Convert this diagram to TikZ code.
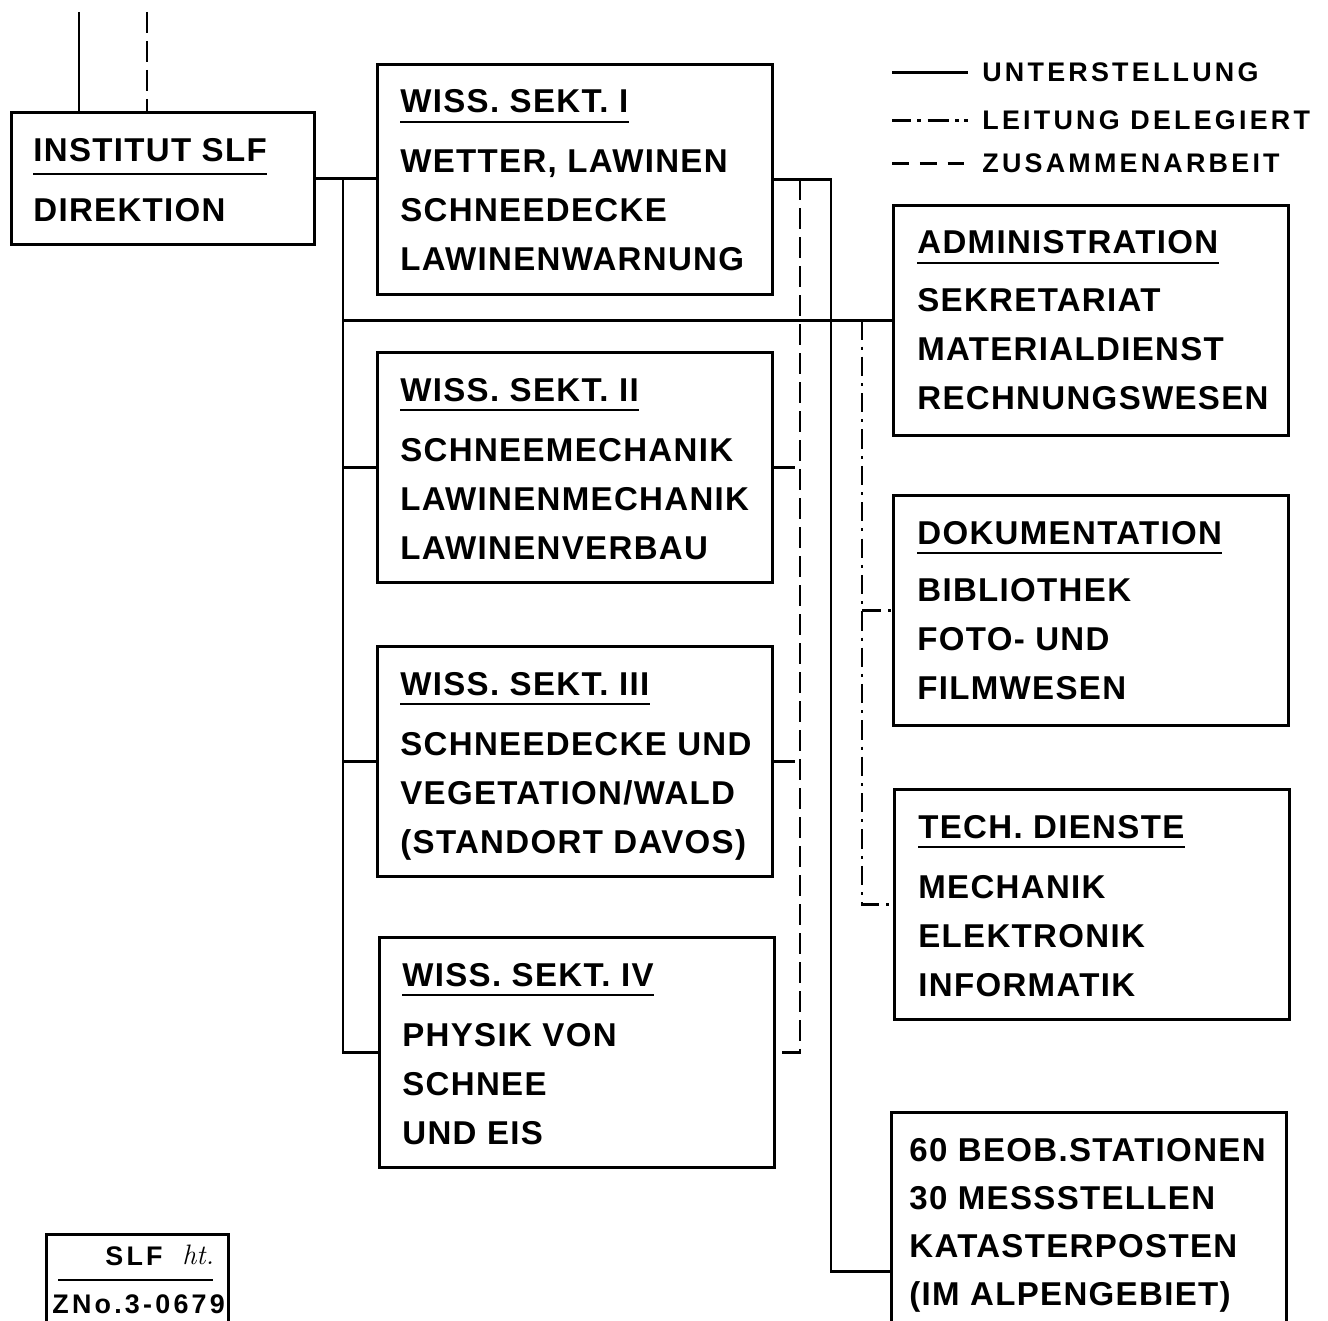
\documentclass[tikz,border=0pt]{standalone}
\usepackage{fontspec}
\newfontfamily\lettering[LetterSpace=4]{Liberation Sans}
\newfontfamily\smalllettering[LetterSpace=12]{Liberation Sans}
\usetikzlibrary{calc}

\begin{document}
\begin{tikzpicture}[x=0.02cm,y=-0.02cm,
  every node/.style={font=\lettering\bfseries\fontsize{18.8}{22}\selectfont, inner sep=0pt},
  unitbox/.style={draw, line width=1.5pt, anchor=north west, minimum width=7.9cm, minimum height=4.6cm},
  txt/.style={anchor=base west},
  uline/.style={line width=1.5pt},
  link/.style={line width=1.5pt},
  coop/.style={line width=1.5pt, dash pattern=on 12pt off 4.5pt},
  deleg/.style={line width=1.5pt, dash pattern=on 11pt off 4pt on 1.7pt off 4pt},
  legend/.style={anchor=base west, font=\smalllettering\bfseries\fontsize{15.3}{18}\selectfont}]
  \useasboundingbox (0,0) rectangle (1328,1321);
  \clip (0,0) rectangle (1328,1321);

  % Direktion
  \node[unitbox, minimum width=6.06cm, minimum height=2.64cm] (inst) at (10,111) {};
  \node[txt] (instt) at ($(inst.north west)+(23,51)$) {INSTITUT SLF};
  \draw[uline] ([yshift=-0.24cm]instt.base west) -- ([yshift=-0.24cm]instt.base east);
  \node[txt] (instl) at ($(inst.north west)+(23,110)$) {DIREKTION};
  \coordinate (topa) at (79,12);
  \coordinate (topb) at (147,12);
  \draw[link] (topa) -- (topa |- inst.north);
  \draw[coop] (topb) -- (topb |- inst.north);

  % Wissenschaftliche Sektionen
  \node[unitbox] (s1) at (376,63) {};
  \node[txt] (s1t) at ($(s1.north west)+(24,50)$) {WISS. SEKT. I};
  \draw[uline] ([yshift=-0.18cm]s1t.base west) -- ([yshift=-0.18cm]s1t.base east);
  \foreach \ln [count=\i] in {{WETTER, LAWINEN},SCHNEEDECKE,LAWINENWARNUNG}
    \node[txt] (s1l\i) at ($(s1.north west)+(24,61+49*\i)$) {\ln};

  \node[unitbox] (s2) at (376,351) {};
  \node[txt] (s2t) at ($(s2.north west)+(24,50)$) {WISS. SEKT. II};
  \draw[uline] ([yshift=-0.18cm]s2t.base west) -- ([yshift=-0.18cm]s2t.base east);
  \foreach \ln [count=\i] in {SCHNEEMECHANIK,LAWINENMECHANIK,LAWINENVERBAU}
    \node[txt] (s2l\i) at ($(s2.north west)+(24,61+49*\i)$) {\ln};

  \node[unitbox] (s3) at (376,645) {};
  \node[txt] (s3t) at ($(s3.north west)+(24,50)$) {WISS. SEKT. III};
  \draw[uline] ([yshift=-0.18cm]s3t.base west) -- ([yshift=-0.18cm]s3t.base east);
  \foreach \ln [count=\i] in {SCHNEEDECKE UND,VEGETATION/WALD,(STANDORT DAVOS)}
    \node[txt] (s3l\i) at ($(s3.north west)+(24,61+49*\i)$) {\ln};

  \node[unitbox] (s4) at (378,936) {};
  \node[txt] (s4t) at ($(s4.north west)+(24,50)$) {WISS. SEKT. IV};
  \draw[uline] ([yshift=-0.18cm]s4t.base west) -- ([yshift=-0.18cm]s4t.base east);
  \foreach \ln [count=\i] in {PHYSIK VON,SCHNEE,UND EIS}
    \node[txt] (s4l\i) at ($(s4.north west)+(24,61+49*\i)$) {\ln};

  % Dienste
  \node[unitbox] (adm) at (892,204) {};
  \node[txt] (admt) at ($(adm.north west)+(25,50)$) {ADMINISTRATION};
  \draw[uline] ([yshift=-0.18cm]admt.base west) -- ([yshift=-0.18cm]admt.base east);
  \foreach \ln [count=\i] in {SEKRETARIAT,MATERIALDIENST,RECHNUNGSWESEN}
    \node[txt] (adml\i) at ($(adm.north west)+(25,58+49*\i)$) {\ln};

  \node[unitbox] (dok) at (892,494) {};
  \node[txt] (dokt) at ($(dok.north west)+(25,50)$) {DOKUMENTATION};
  \draw[uline] ([yshift=-0.18cm]dokt.base west) -- ([yshift=-0.18cm]dokt.base east);
  \foreach \ln [count=\i] in {BIBLIOTHEK,FOTO- UND,FILMWESEN}
    \node[txt] (dokl\i) at ($(dok.north west)+(25,58+49*\i)$) {\ln};

  \node[unitbox] (tech) at (893,788) {};
  \node[txt] (techt) at ($(tech.north west)+(25,50)$) {TECH. DIENSTE};
  \draw[uline] ([yshift=-0.18cm]techt.base west) -- ([yshift=-0.18cm]techt.base east);
  \foreach \ln [count=\i] in {MECHANIK,ELEKTRONIK,INFORMATIK}
    \node[txt] (techl\i) at ($(tech.north west)+(25,61+49*\i)$) {\ln};

  \node[unitbox, minimum height=6.36cm] (b60) at (890,1111) {};
  \foreach \ln [count=\i] in {60 BEOB.STATIONEN,30 MESSSTELLEN,KATASTERPOSTEN,(IM ALPENGEBIET)}
    \node[txt] (b60l\i) at ($(b60.north west)+(19,2+48*\i)$) {\ln};

  % Verbindungen
  \coordinate (lbus) at (343,0);
  \coordinate (dbus) at (800,0);
  \coordinate (rbus) at (831,0);
  \coordinate (gbus) at (862,0);
  \draw[link] (inst.east) -- (inst.east -| s1.west);
  \draw[link] (inst.east -| lbus) |- (s4.west);
  \draw[link] (lbus |- s2.west) -- (s2.west);
  \draw[link] (lbus |- s3.west) -- (s3.west);
  \draw[link] (lbus |- adm.west) -- (adm.west);
  \draw[link] (s1.east) -| (rbus |- b60.west) -- (b60.west);
  \draw[coop] (dbus |- s1.east) -- (dbus |- s4.east) -- (s4.east);
  \draw[coop] (s2.east) -- (s2.east -| dbus);
  \draw[coop] (s3.east) -- (s3.east -| dbus);
  \draw[deleg] (gbus |- adm.west) |- (tech.west);
  \draw[deleg] (gbus |- dok.west) -- (dok.west);

  % Legende
  \node[legend] (lg1) at (982,82) {UNTERSTELLUNG};
  \node[legend] (lg2) at (982,130) {LEITUNG DELEGIERT};
  \node[legend] (lg3) at (982,173) {ZUSAMMENARBEIT};
  \draw[link] ($(lg1.west)+(-90,0)$) -- ($(lg1.west)+(-14,0)$);
  \draw[line width=1.5pt, dash pattern=on 10.8pt off 3.6pt on 2.2pt off 3.6pt on 12.2pt off 3.6pt on 2.2pt off 2.9pt on 2.2pt off 10pt]
    ($(lg2.west)+(-90,0)$) -- ($(lg2.west)+(-14,0)$);
  \draw[line width=1.5pt, dash pattern=on 9.6pt off 6.2pt]
    ($(lg3.west)+(-90,0)$) -- ($(lg3.west)+(-14,0)$);

  % Stempel
  \node[unitbox, minimum width=3.64cm, minimum height=2.4cm] (stamp) at (45,1233) {};
  \node[legend] (stslf) at (105,1265) {SLF};
  \node[anchor=base west, font=\rmfamily\itshape\fontsize{16}{18}\selectfont] (stsig) at (182,1264) {ht.};
  \draw[uline] ($(stamp.north west)+(13,47)$) -- ++(155,0);
  \node[legend] (stno) at (52,1313) {ZNo.3-0679};
\end{tikzpicture}
\end{document}
